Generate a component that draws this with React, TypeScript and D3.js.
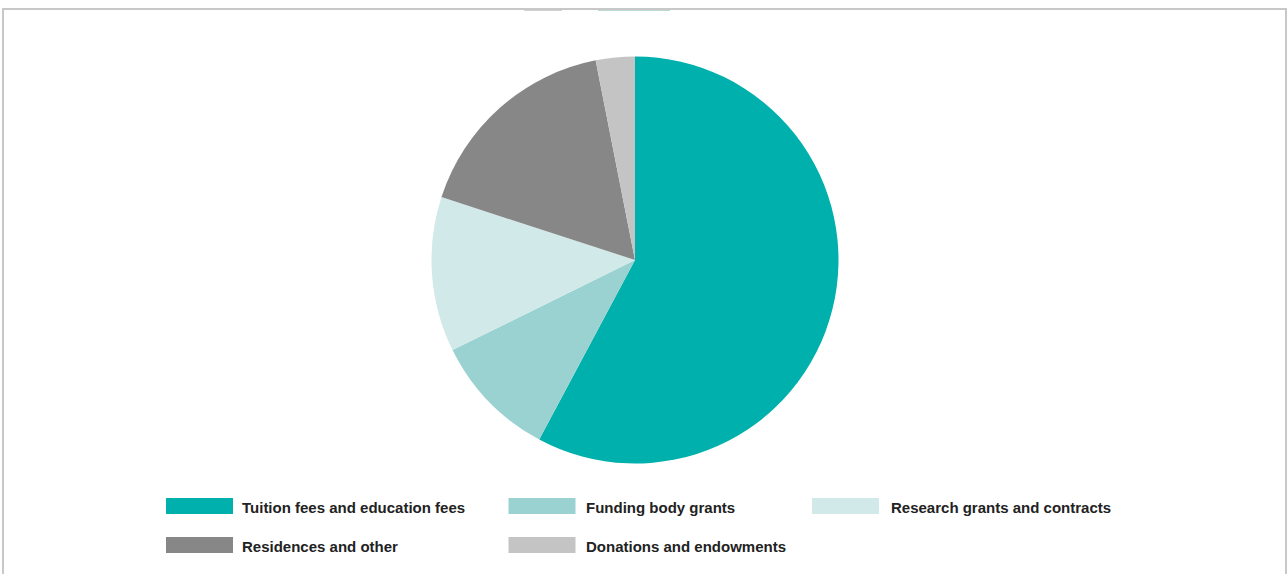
import React from "react";
import * as d3 from "d3";

const categories = [
  "Tuition fees and education fees",
  "Funding body grants",
  "Research grants and contracts",
  "Residences and other",
  "Donations and endowments",
];
const values = [57.8, 9.9, 12.3, 16.9, 3.1];
const colors = ["#00b0ad", "#99d2d0", "#d1e9e8", "#878787", "#c4c4c4"];

const W = 1288;
const H = 574;
const cx = 635;
const cy = 260;
const R = 203.5;

const legendCols = [166, 508.5, 812];
const legendTextX = [242, 586, 891];
const legendRows = [498, 537];

export default function App() {
  const data = categories.map((c, i) => ({ c, v: values[i], color: colors[i] }));
  const pie = d3.pie<any>().sort(null).value((d) => d.v);
  const arcs = pie(data);
  const arc = d3.arc<any>().innerRadius(0).outerRadius(R);

  return (
    <svg
      width={W}
      height={H}
      style={{ position: "absolute", left: 0, top: 0, background: "#fff" }}
      fontFamily="'Liberation Sans', Arial, sans-serif"
    >
      <path
        d={`M3,${H} L3,9 L1286,9 L1286,${H}`}
        fill="none"
        stroke="#c8c8c8"
        strokeWidth={2}
      />
      <line x1={524} x2={562} y1={10.5} y2={10.5} stroke="#b4b4b4" strokeWidth={1} opacity={0.6} />
      <line x1={598} x2={670} y1={10.5} y2={10.5} stroke="#9cc9c2" strokeWidth={1} opacity={0.7} />
      <g transform={`translate(${cx},${cy})`}>
        {arcs.map((a, i) => (
          <path key={i} d={arc(a) as string} fill={a.data.color} />
        ))}
      </g>
      {data.map((d, i) => {
        const col = i % 3;
        const row = Math.floor(i / 3);
        const x = legendCols[col];
        const y = legendRows[row];
        return (
          <g key={d.c}>
            <rect x={x} y={y} width={67} height={16} fill={d.color} />
            <text
              x={legendTextX[col]}
              y={y + 15.3}
              fontSize={15}
              fontWeight="bold"
              fill="#222"
            >
              {d.c}
            </text>
          </g>
        );
      })}
    </svg>
  );
}
